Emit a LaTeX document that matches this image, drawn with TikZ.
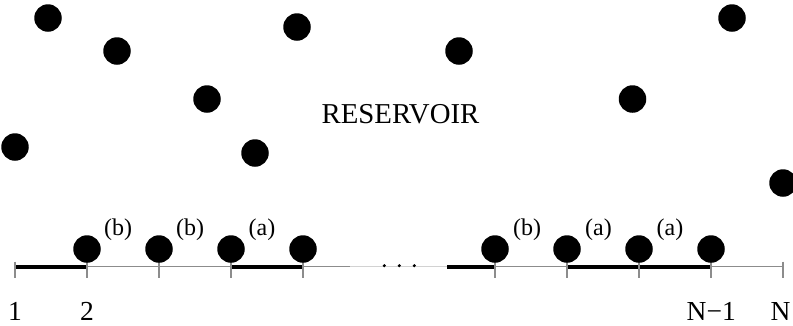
\documentclass[tikz,border=0pt]{standalone}
\usepackage{fontspec}
\setmainfont{Liberation Serif}
\begin{document}
\begin{tikzpicture}[x=1pt,y=-1pt,
  ball/.style={circle,fill=black,draw=none,minimum size=27.5pt,inner sep=0pt},
  thinline/.style={draw=gray!90,line width=1.4pt},
  fadeline/.style={draw=gray!35,line width=1.4pt},
  thickline/.style={draw=black,line width=4pt},
  tickline/.style={draw=gray!90,line width=1.4pt},
  dotmark/.style={circle,fill=black,draw=none,minimum size=3.4pt,inner sep=0pt},
  lab/.style={font=\fontsize{24}{24}\selectfont,anchor=base,inner sep=0pt},
  numlab/.style={font=\fontsize{27.5}{27.5}\selectfont,anchor=base,inner sep=0pt},
  reslab/.style={font=\fontsize{28.8}{28.8}\selectfont,anchor=base,inner sep=0pt}]
\useasboundingbox (0,0) rectangle (793,325);
% reservoir particles
\node[ball] (r1) at (48,18) {};
\node[ball] (r2) at (117,51) {};
\node[ball] (r3) at (297,27) {};
\node[ball] (r4) at (207,99) {};
\node[ball] (r5) at (15,147) {};
\node[ball] (r6) at (255,153) {};
\node[ball] (r7) at (459,51) {};
\node[ball] (r8) at (632.5,99) {};
\node[ball] (r9) at (732,18) {};
\node[ball] (r10) at (783,183) {};
\node[reslab] (res) at (400.5,123) {RESERVOIR};
% lattice coordinates
\coordinate (s1) at (15,266.7);
\coordinate (s2) at (87,266.7);
\coordinate (s3) at (159,266.7);
\coordinate (s4) at (231,266.7);
\coordinate (s5) at (303,266.7);
\coordinate (fa) at (350,266.7);
\coordinate (fb) at (447,266.7);
\coordinate (s6) at (495,266.7);
\coordinate (s7) at (567,266.7);
\coordinate (s8) at (639,266.7);
\coordinate (s9) at (711,266.7);
\coordinate (s10) at (783,266.7);
% base lines
\draw[thinline] (s1) -- (fa);
\draw[fadeline] (fa) -- (fb);
\draw[thinline] (fb) -- (s10);
% thick bonds
\draw[thickline] (s1) -- (s2);
\draw[thickline] (s4) -- (s5);
\draw[thickline] (fb) -- (s6);
\draw[thickline] (s7) -- (s9);
% ticks
\foreach \c in {s1,s2,s3,s4,s5,s6,s7,s8,s9,s10}{
  \draw[tickline] ([yshift=5pt]\c) -- ([yshift=-11.5pt]\c);
}
% particles on the lattice
\node[ball] (b2) at (87,249) {};
\node[ball] (b3) at (159,249) {};
\node[ball] (b4) at (231,249) {};
\node[ball] (b5) at (303,249) {};
\node[ball] (b6) at (495,249) {};
\node[ball] (b7) at (567,249) {};
\node[ball] (b8) at (639,249) {};
\node[ball] (b9) at (711,249) {};
% dots
\node[dotmark] (d1) at (384.3,265.7) {};
\node[dotmark] (d2) at (399.3,265.7) {};
\node[dotmark] (d3) at (414.3,265.7) {};
% labels
\node[lab] (l1) at (118,235) {(b)};
\node[lab] (l2) at (190,235) {(b)};
\node[lab] (l3) at (262,235) {(a)};
\node[lab] (l4) at (527,235) {(b)};
\node[lab] (l5) at (598.5,235) {(a)};
\node[lab] (l6) at (670,235) {(a)};
\node[numlab] (n1) at (15,320.5) {1};
\node[numlab] (n2) at (87,320.5) {2};
\node[numlab] (n3) at (711.3,320.5) {N−1};
\node[numlab] (n4) at (780.5,320.5) {N};
\end{tikzpicture}
\end{document}
